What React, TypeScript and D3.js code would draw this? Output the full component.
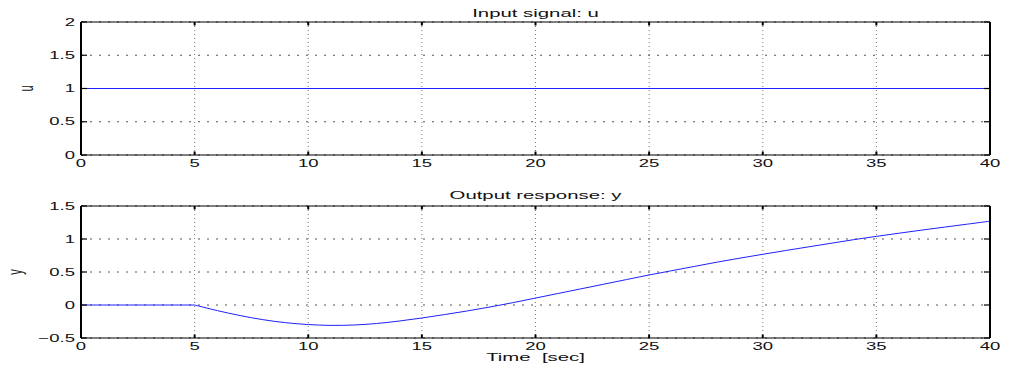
import * as d3 from "d3";
import React from "react";

// Figure was stretched horizontally; text is drawn with the same x-stretch
const SX = 1.85;
const FONT = "'Liberation Sans', Arial, Helvetica, sans-serif";

// time base (sec) and output response y(t)
const timeSec = [
  0, 1, 2, 3, 4, 5, 6, 7, 8, 9, 10, 11, 12, 13, 14, 15, 16, 17, 18, 19, 20,
  21, 22, 23, 24, 25, 26, 27, 28, 29, 30, 31, 32, 33, 34, 35, 36, 37, 38, 39, 40,
];
const yOut = [
  0, 0, 0, 0, 0, 0, -0.085, -0.16, -0.222, -0.268, -0.296, -0.309, -0.303,
  -0.281, -0.243, -0.197, -0.145, -0.09, -0.03, 0.035, 0.105, 0.175, 0.245,
  0.315, 0.385, 0.455, 0.52, 0.585, 0.65, 0.71, 0.768, 0.825, 0.88, 0.935,
  0.99, 1.04, 1.088, 1.135, 1.18, 1.225, 1.27,
];
// the step reaches the system at t = 5 (index in timeSec)
const stepIndex = 5;

// input signal u(t): constant step
const uTime = [0, 40];
const uIn = [1, 1];

const xTicks = [0, 5, 10, 15, 20, 25, 30, 35, 40];
const uTicks = [0, 0.5, 1, 1.5, 2];
const yTicks = [-0.5, 0, 0.5, 1, 1.5];

const fmt = (v: number) => String(v).replace("-", "\u2212");

interface PanelProps {
  top: number;
  bottom: number;
  yDomain: [number, number];
  yTickVals: number[];
  xs: number[];
  ys: number[];
  breakAt?: number;
  title: string;
  titleY: number;
  ylabel: string;
  ylabelX: number;
}

const x = d3.scaleLinear().domain([0, 40]).range([81, 990]);

const Txt: React.FC<{
  x: number;
  y: number;
  size: number;
  anchor?: string;
  rotate?: boolean;
  children: React.ReactNode;
}> = ({ x, y, size, anchor = "middle", rotate, children }) => (
  <text
    transform={`translate(${x},${y}) scale(${SX},1)${rotate ? " rotate(-90)" : ""}`}
    textAnchor={anchor}
    fontSize={size}
    fontFamily={FONT}
    fill="#111"
    style={{ whiteSpace: "pre" }}
  >
    {children}
  </text>
);

const Panel: React.FC<PanelProps> = ({
  top, bottom, yDomain, yTickVals, xs, ys, breakAt, title, titleY, ylabel, ylabelX,
}) => {
  const y = d3.scaleLinear().domain(yDomain).range([bottom, top]);
  const [x0, x1] = x.range();
  const pts = xs.map((t, i) => [t, ys[i]] as [number, number]);
  const line = d3
    .line<[number, number]>()
    .x((d) => x(d[0]))
    .y((d) => y(d[1]))
    .curve(d3.curveCatmullRom.alpha(0.5));
  // keep the corner where the response starts
  const parts = breakAt != null ? [pts.slice(0, breakAt + 1), pts.slice(breakAt)] : [pts];

  return (
    <g>
      {/* grid */}
      {xTicks.map((t) => (
        <line key={"gx" + t} x1={x(t)} x2={x(t)} y1={top} y2={bottom}
          stroke="#777" strokeWidth={1} strokeDasharray="1,3" />
      ))}
      {yTickVals.map((t) => (
        <line key={"gy" + t} x1={x0} x2={x1} y1={y(t)} y2={y(t)}
          stroke="#555" strokeWidth={1} strokeDasharray="2,7" />
      ))}

      {/* data */}
      {parts.map((p, i) => (
        <path key={i} d={line(p) ?? ""} fill="none" stroke="#2020ff" strokeWidth={1} />
      ))}

      {/* box */}
      <line x1={x0} x2={x1} y1={top} y2={top} stroke="#000" strokeWidth={1.2} />
      <line x1={x0} x2={x1} y1={bottom} y2={bottom} stroke="#000" strokeWidth={1.2} />
      <line x1={x0} x2={x0} y1={top} y2={bottom} stroke="#000" strokeWidth={2} />
      <line x1={x1} x2={x1} y1={top} y2={bottom} stroke="#000" strokeWidth={2} />

      {/* inner ticks */}
      {xTicks.map((t) => (
        <g key={"tx" + t}>
          <line x1={x(t)} x2={x(t)} y1={bottom} y2={bottom - 3.5} stroke="#000" strokeWidth={2} />
          <line x1={x(t)} x2={x(t)} y1={top} y2={top + 3.5} stroke="#000" strokeWidth={2} />
          <Txt x={x(t)} y={bottom + 12} size={10}>{fmt(t)}</Txt>
        </g>
      ))}
      {yTickVals.map((t) => (
        <g key={"ty" + t}>
          <line x1={x0} x2={x0 + 6} y1={y(t)} y2={y(t)} stroke="#000" strokeWidth={1.2} />
          <line x1={x1} x2={x1 - 6} y1={y(t)} y2={y(t)} stroke="#000" strokeWidth={1.2} />
          <Txt x={75} y={y(t) + 3.6} size={10} anchor="end">{fmt(t)}</Txt>
        </g>
      ))}

      <Txt x={(x0 + x1) / 2} y={titleY} size={11}>{title}</Txt>
      <Txt x={ylabelX} y={(top + bottom) / 2} size={11} rotate>{ylabel}</Txt>
    </g>
  );
};

export default function App() {
  return (
    <svg
      width={1011}
      height={372}
      style={{ position: "absolute", left: 0, top: 0, background: "#fff" }}
    >
      <Panel top={22} bottom={155} yDomain={[0, 2]} yTickVals={uTicks}
        xs={uTime} ys={uIn} title="Input signal: u" titleY={16.5}
        ylabel="u" ylabelX={33} />
      <Panel top={206} bottom={338} yDomain={[-0.5, 1.5]} yTickVals={yTicks}
        xs={timeSec} ys={yOut} breakAt={stepIndex} title="Output response: y"
        titleY={199} ylabel="y" ylabelX={21.5} />
      <Txt x={535.5} y={360.5} size={11}>{"Time  [sec]"}</Txt>
    </svg>
  );
}
